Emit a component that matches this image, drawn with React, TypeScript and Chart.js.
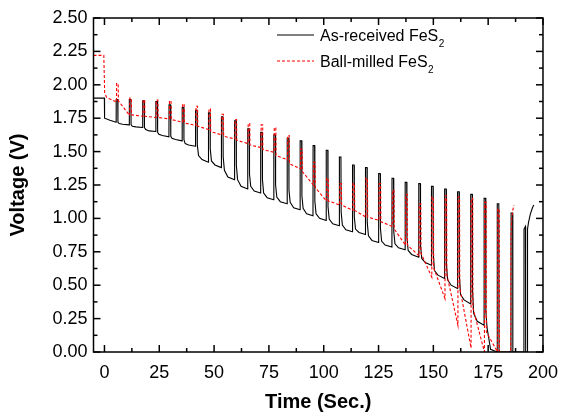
import React, { useEffect, useRef } from "react";
import { Chart, registerables } from "chart.js";

Chart.register(...registerables);

// ---------- Axis ticks ----------
const xTickValues = [0, 25, 50, 75, 100, 125, 150, 175, 200];
const yTickValues = [0, 0.25, 0.5, 0.75, 1.0, 1.25, 1.5, 1.75, 2.0, 2.25, 2.5];

// ---------- As-received FeS2 (black, solid) ----------
const asStartT = [-5, -0.05, 0.05, 2.5];
const asStartV = [1.9, 1.9, 1.75, 1.735];
const asPulseT = [5.3, 11.3, 17.4, 23.4, 29.4, 35.4, 41.5, 47.4, 53.3, 59.3, 65.3, 71.2, 77.2, 83.3, 89.2, 95.1, 101.1, 107.1, 113.1, 119.0, 125.0, 131.1, 137.1, 143.3, 149.1, 155.1, 161.0, 167.0, 173.1, 179.1, 185.4];
const asPreV = [1.72, 1.7, 1.68, 1.65, 1.61, 1.58, 1.54, 1.42, 1.38, 1.29, 1.22, 1.19, 1.14, 1.11, 1.065, 1.02, 0.985, 0.945, 0.9, 0.88, 0.82, 0.785, 0.765, 0.71, 0.65, 0.55, 0.475, 0.36, 0.2, 0, 0];
const asPeakV = [1.89, 1.89, 1.88, 1.875, 1.85, 1.83, 1.81, 1.79, 1.76, 1.73, 1.67, 1.645, 1.625, 1.6, 1.58, 1.545, 1.51, 1.46, 1.4, 1.38, 1.335, 1.3, 1.27, 1.26, 1.24, 1.22, 1.2, 1.18, 1.15, 1.11, 1.04];
const asPostV = [1.72, 1.7, 1.68, 1.645, 1.615, 1.59, 1.55, 1.52, 1.46, 1.4, 1.33, 1.29, 1.25, 1.21, 1.17, 1.13, 1.09, 1.05, 1.01, 0.97, 0.93, 0.9, 0.86, 0.8, 0.74, 0.66, 0.58, 0.47, 0.3, 0, 0];
const asKneeV = [1.71, 1.69, 1.665, 1.63, 1.6, 1.56, 1.47, 1.43, 1.36, 1.29, 1.24, 1.19, 1.16, 1.12, 1.075, 1.035, 0.995, 0.95, 0.92, 0.87, 0.83, 0.81, 0.76, 0.7, 0.61, 0.54, 0.43, 0.29, 0.18, 0, 0];
const asLateV = [1.705, 1.685, 1.655, 1.62, 1.59, 1.55, 1.44, 1.4, 1.31, 1.24, 1.205, 1.155, 1.125, 1.08, 1.035, 1.0, 0.96, 0.915, 0.895, 0.835, 0.8, 0.78, 0.73, 0.67, 0.575, 0.5, 0.39, 0.23, 0.02, 0, 0];
const asEndT = [191.3, 191.35, 192.0, 192.1, 192.9, 192.95, 193.4, 194.2, 195.2, 195.8];
const asEndV = [0, 0.92, 0.94, 0, 0, 0.92, 0.97, 1.03, 1.08, 1.1];

// ---------- Ball-milled FeS2 (red, dashed) ----------
const bmStartT = [-5, -0.3, 0.1, 1.0, 3.0];
const bmStartV = [2.22, 2.22, 1.94, 1.905, 1.89];
const bmPulseT = [5.5, 11.5, 17.6, 23.6, 29.6, 35.6, 41.7, 47.6, 53.5, 59.5, 65.5, 71.4, 77.4, 83.5, 89.4, 95.3, 101.3, 107.3, 113.3, 119.2, 125.2, 131.3, 137.3, 143.5, 149.3, 155.3, 161.2, 167.2, 173.3, 179.3];
const bmPreV = [1.87, 1.77, 1.765, 1.755, 1.745, 1.72, 1.695, 1.665, 1.625, 1.595, 1.56, 1.53, 1.495, 1.44, 1.37, 1.25, 1.13, 1.1, 1.06, 1.01, 0.985, 0.94, 0.8, 0.72, 0.56, 0.4, 0.2, 0.03, 0, 0];
const bmPeakV = [2.01, 1.9, 1.886, 1.886, 1.88, 1.856, 1.84, 1.82, 1.78, 1.74, 1.71, 1.7, 1.68, 1.62, 1.52, 1.42, 1.3, 1.26, 1.26, 1.3, 1.26, 1.21, 1.18, 1.11, 1.16, 1.17, 1.16, 1.15, 1.12, 1.07];
const bmPostV = [1.88, 1.775, 1.765, 1.755, 1.74, 1.715, 1.69, 1.65, 1.615, 1.585, 1.55, 1.515, 1.47, 1.41, 1.35, 1.23, 1.13, 1.1, 1.06, 1.01, 0.975, 0.92, 0.8, 0.74, 0.63, 0.58, 0.48, 0.33, 0.15, 0];
const bmEndT = [185.3, 185.35, 185.7, 186.2, 186.8];
const bmEndV = [0, 0.85, 0.99, 1.06, 1.1];

const FONT = '"Liberation Sans", Arial, Helvetica, sans-serif';

type Pt = { x: number; y: number };

function buildTrace(
  startT: number[], startV: number[],
  pulseT: number[], preV: number[], peakV: number[], postV: number[],
  kneeV: number[] | null, lateV: number[] | null,
  endT: number[], endV: number[]
): Pt[] {
  const pts: Pt[] = [];
  startT.forEach((t, i) => pts.push({ x: t, y: startV[i] }));
  pulseT.forEach((t, k) => {
    pts.push({ x: t, y: preV[k] });
    pts.push({ x: t + 0.05, y: peakV[k] });
    pts.push({ x: t + 0.75, y: peakV[k] });
    pts.push({ x: t + 0.85, y: postV[k] });
    if (kneeV) pts.push({ x: t + 1.4, y: kneeV[k] });
    if (lateV) pts.push({ x: t + 3.0, y: lateV[k] });
  });
  endT.forEach((t, i) => pts.push({ x: t, y: endV[i] }));
  return pts;
}

const framePlugin = {
  id: "frameTicksLegend",
  afterDatasetsDraw(chart: any) {
    const { ctx, chartArea: a, scales } = chart;
    const xs = scales.x;
    const ys = scales.y;
    ctx.save();
    ctx.strokeStyle = "#000";
    ctx.lineWidth = 1.5;
    ctx.strokeRect(a.left, a.top, a.right - a.left, a.bottom - a.top);
    const seg = (x1: number, y1: number, x2: number, y2: number) => {
      ctx.beginPath();
      ctx.moveTo(x1, y1);
      ctx.lineTo(x2, y2);
      ctx.stroke();
    };
    const major = 7;
    const minor = 4;
    xTickValues.forEach((v, i) => {
      const px = xs.getPixelForValue(v);
      seg(px, a.bottom, px, a.bottom - major);
      seg(px, a.top, px, a.top + major);
      if (i < xTickValues.length - 1) {
        const m = xs.getPixelForValue((v + xTickValues[i + 1]) / 2);
        seg(m, a.bottom, m, a.bottom - minor);
        seg(m, a.top, m, a.top + minor);
      }
    });
    yTickValues.forEach((v, i) => {
      const py = ys.getPixelForValue(v);
      seg(a.left, py, a.left + major, py);
      seg(a.right, py, a.right - major, py);
      if (i < yTickValues.length - 1) {
        const m = ys.getPixelForValue((v + yTickValues[i + 1]) / 2);
        seg(a.left, m, a.left + minor, m);
        seg(a.right, m, a.right - minor, m);
      }
    });
    ctx.restore();
  },
  afterDraw(chart: any) {
    const { ctx } = chart;
    ctx.save();
    const entries = [
      { text: "As-received FeS", color: "#000", dash: [] as number[], y: 35 },
      { text: "Ball-milled FeS", color: "rgb(255,0,0)", dash: [3, 2], y: 61 },
    ];
    entries.forEach((e) => {
      ctx.strokeStyle = e.color;
      ctx.lineWidth = 1.2;
      ctx.setLineDash(e.dash);
      ctx.beginPath();
      ctx.moveTo(277, e.y);
      ctx.lineTo(314, e.y);
      ctx.stroke();
      ctx.setLineDash([]);
      ctx.fillStyle = "#000";
      ctx.textBaseline = "alphabetic";
      ctx.textAlign = "left";
      ctx.font = `16px ${FONT}`;
      const base = e.y + 6;
      ctx.fillText(e.text, 320, base);
      const w = ctx.measureText(e.text).width;
      ctx.font = `10px ${FONT}`;
      ctx.fillText("2", 320 + w + 0.5, base + 6);
    });
    ctx.restore();
  },
};

export default function App() {
  const ref = useRef<HTMLCanvasElement | null>(null);

  useEffect(() => {
    document.body.style.margin = "0";
    if (!ref.current) return;
    const asData = buildTrace(asStartT, asStartV, asPulseT, asPreV, asPeakV, asPostV, asKneeV, asLateV, asEndT, asEndV);
    const bmData = buildTrace(bmStartT, bmStartV, bmPulseT, bmPreV, bmPeakV, bmPostV, null, null, bmEndT, bmEndV);

    const chart = new Chart(ref.current, {
      type: "scatter",
      data: {
        datasets: [
          {
            label: "As-received FeS2",
            data: asData,
            showLine: true,
            borderColor: "#000",
            borderWidth: 1.1,
            pointRadius: 0,
            order: 1,
          },
          {
            label: "Ball-milled FeS2",
            data: bmData,
            showLine: true,
            borderColor: "rgb(255,0,0)",
            borderWidth: 1.1,
            borderDash: [3, 2],
            pointRadius: 0,
            order: 0,
          },
        ],
      },
      options: {
        animation: false,
        responsive: false,
        devicePixelRatio: 1,
        layout: { padding: { top: 18, right: 18, left: 0, bottom: 0 } },
        plugins: { legend: { display: false }, tooltip: { enabled: false } },
        elements: { point: { radius: 0 }, line: { tension: 0 } },
        scales: {
          x: {
            type: "linear",
            min: -5,
            max: 200,
            grid: { display: false, drawTicks: false },
            border: { display: false },
            afterBuildTicks: (s: any) => {
              s.ticks = xTickValues.map((v) => ({ value: v }));
            },
            afterFit: (s: any) => {
              s.height = 62;
            },
            ticks: {
              autoSkip: false,
              maxRotation: 0,
              padding: 10,
              color: "#000",
              font: { family: FONT, size: 18 },
              callback: (v: any) => String(v),
            },
            title: {
              display: true,
              text: "Time (Sec.)",
              color: "#000",
              font: { family: FONT, size: 20, weight: "bold" },
              padding: { top: 0, bottom: 0 },
            },
          },
          y: {
            type: "linear",
            min: 0,
            max: 2.5,
            grid: { display: false, drawTicks: false },
            border: { display: false },
            afterBuildTicks: (s: any) => {
              s.ticks = yTickValues.map((v) => ({ value: v }));
            },
            afterFit: (s: any) => {
              s.width = 93.5;
            },
            ticks: {
              autoSkip: false,
              padding: 6,
              color: "#000",
              font: { family: FONT, size: 18 },
              callback: (v: any) => Number(v).toFixed(2),
            },
            title: {
              display: true,
              text: "Voltage (V)",
              color: "#000",
              font: { family: FONT, size: 20, weight: "bold" },
              padding: { top: 6, bottom: 0 },
            },
          },
        },
      },
      plugins: [framePlugin],
    });
    return () => chart.destroy();
  }, []);

  return (
    <div style={{ width: 568, height: 414, background: "#fff" }}>
      <canvas ref={ref} width={568} height={414} style={{ display: "block" }} />
    </div>
  );
}
